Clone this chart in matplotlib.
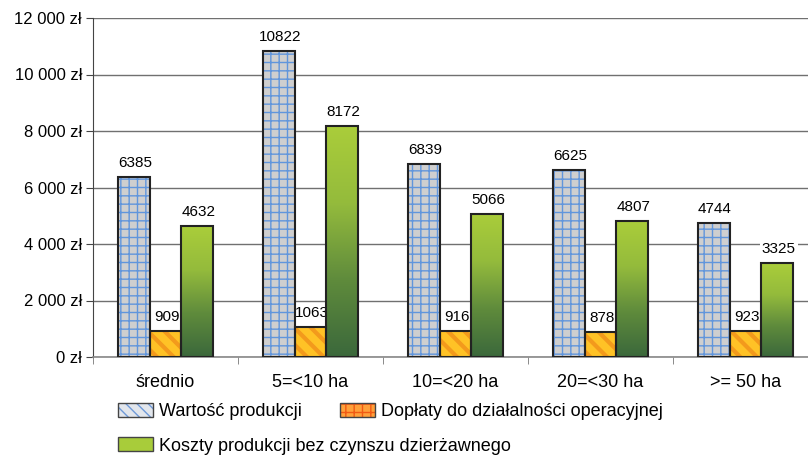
import matplotlib
matplotlib.use("Agg")
import matplotlib.pyplot as plt
import numpy as np
from matplotlib.patches import Patch
from matplotlib.colors import LinearSegmentedColormap
from matplotlib.legend_handler import HandlerTuple

plt.rcParams['font.family'] = ['Liberation Sans', 'DejaVu Sans']

# data
groups = ["średnio", "5=<10 ha", "10=<20 ha", "20=<30 ha", ">= 50 ha"]
wartosc = [6385, 10822, 6839, 6625, 4744]
doplaty = [909, 1063, 916, 878, 923]
koszty = [4632, 8172, 5066, 4807, 3325]
yticks = [0, 2000, 4000, 6000, 8000, 10000, 12000]
ylabels = ["0 zł", "2 000 zł", "4 000 zł", "6 000 zł", "8 000 zł", "10 000 zł", "12 000 zł"]
names = ["Wartość produkcji", "Dopłaty do działalności operacyjnej",
         "Koszty produkcji bez czynszu dzierżawnego"]

W, H = 808, 455
fig = plt.figure(figsize=(W / 100, H / 100), dpi=100)
# plot area runs a bit past the right edge of the picture, as in the original
ax = fig.add_axes([93 / W, 1 - 357 / H, 725 / W, 339 / H])

x = np.arange(len(groups))
bw = 0.22
edge = '#222222'


def hatch_lw(patches, lw):
    for p in patches:
        if hasattr(p, 'set_hatch_linewidth'):
            p.set_hatch_linewidth(lw)


# grey bars with blue grid
b1 = ax.bar(x - bw, wartosc, bw, color='#cfcfcf', hatch='++', edgecolor='#6196dc', lw=0, zorder=2)
hatch_lw(b1, 1.0)
ax.bar(x - bw, wartosc, bw, fill=False, edgecolor=edge, lw=1.5, zorder=4)

# orange bars with stripes
b2 = ax.bar(x, doplaty, bw, color='#ffc226', hatch='\\\\', edgecolor='#f39a1c', lw=0, zorder=2)
hatch_lw(b2, 3.0)
ax.bar(x, doplaty, bw, fill=False, edgecolor=edge, lw=1.5, zorder=4)

# green bars with vertical gradient
cmap = LinearSegmentedColormap.from_list('g', ['#3b683b', '#5f8b3c', '#94bb3c', '#aacd3a'])
grad = np.linspace(0, 1, 256).reshape(-1, 1)
for xi, h in zip(x, koszty):
    ax.imshow(grad, cmap=cmap, origin='lower', aspect='auto',
              extent=[xi + bw / 2, xi + 1.5 * bw, 0, h], zorder=2)
ax.bar(x + bw, koszty, bw, fill=False, edgecolor=edge, lw=1.5, zorder=4)

# value labels (white box hides the gridline behind them, bars stay on top)
for off, vals in ((-bw, wartosc), (0, doplaty), (bw, koszty)):
    for xi, v in zip(x, vals):
        ax.annotate(str(v), (xi + off, v), xytext=(1, 5), textcoords='offset points',
                    ha='center', va='bottom', fontsize=11, zorder=1.5,
                    family=['Liberation Sans Narrow', 'Liberation Sans'],
                    bbox=dict(facecolor='white', edgecolor='none', pad=1.5))

ax.set_xlim(-0.5, len(groups) - 0.5)
ax.set_ylim(0, 12000)
ax.set_yticks(yticks, ylabels)
ax.set_xticks(x, groups)
ax.set_xticks(np.arange(-0.5, len(groups), 1.0), minor=True)
ax.tick_params(axis='x', which='major', length=0, pad=12, labelsize=13)
ax.tick_params(axis='x', which='minor', length=5, color='#777777')
ax.tick_params(axis='y', length=5, color='#444444', labelsize=12, pad=3)
ax.yaxis.grid(True, color='#707070', lw=1, zorder=0.5)
ax.set_axisbelow(True)
for s in ('top', 'right'):
    ax.spines[s].set_visible(False)
ax.spines['left'].set_color('#444444')
ax.spines['bottom'].set_color('#888888')
ax.spines['bottom'].set_linewidth(1.2)

# legend: three single entries placed like the original
p1 = Patch(facecolor='#e2e6ec', hatch='\\\\\\', edgecolor='#6f9ad8', lw=0)
p2 = Patch(facecolor='#ffa03a', hatch='++', edgecolor='#f05a14', lw=0)
hatch_lw([p1], 2.5)
hatch_lw([p2], 3.0)
outline = dict(fill=False, edgecolor='#444444', lw=1)
handles = [(p1, Patch(**outline)), (p2, Patch(**outline)),
           (Patch(facecolor='#a8cc3a', lw=0), Patch(**outline))]
spots = [(118, 411.5), (340, 411.5), (118, 446)]
hm = {tuple: HandlerTuple(ndivide=1, pad=0)}
for hd, name, (px, py) in zip(handles, names, spots):
    fig.legend([hd], [name], frameon=False, fontsize=13, handlelength=1.94,
               handleheight=0.83, handletextpad=0.33, borderpad=0, borderaxespad=0,
               handler_map=hm, loc='center left', bbox_to_anchor=(px / W, 1 - py / H))

fig.savefig("out.png", dpi=100)
